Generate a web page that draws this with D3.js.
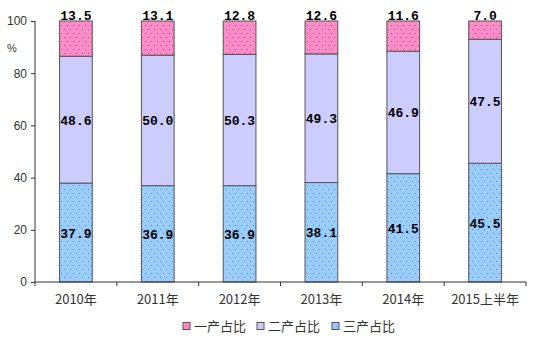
<!DOCTYPE html>
<html><head><meta charset="utf-8">
<script src="https://cdn.jsdelivr.net/npm/d3@7"></script>
<style>body{margin:0;background:#fff}svg{display:block}</style>
</head><body>
<svg id="c" width="554" height="364"></svg>
<script>
const categories = ["2010年","2011年","2012年","2013年","2014年","2015上半年"];
const primary   = [13.5,13.1,12.8,12.6,11.6,7.0];
const secondary = [48.6,50.0,50.3,49.3,46.9,47.5];
const tertiary  = [37.9,36.9,36.9,38.1,41.5,45.5];
const seriesNames = ["一产占比","二产占比","三产占比"];
const yTicks = [0,20,40,60,80,100];

const svg = d3.select("#c");
const x = d3.scaleBand().domain(categories).range([35,526]).paddingInner(0.6).paddingOuter(0.3);
const xb = d3.scaleBand().domain(categories).range([35,526]);
const y = d3.scaleLinear().domain([0,100]).range([282,21]);

const defs = svg.append("defs");
function pat(id, bg, dot){
  const p = defs.append("pattern").attr("id",id).attr("patternUnits","userSpaceOnUse")
    .attr("width",6).attr("height",8);
  p.append("rect").attr("width",6).attr("height",8).attr("fill",bg);
  p.append("rect").attr("x",1).attr("y",1).attr("width",1).attr("height",1).attr("fill",dot);
  p.append("rect").attr("x",4).attr("y",5).attr("width",1).attr("height",1).attr("fill",dot);
}
pat("pPink","#FF8CC6","#B0508A");
pat("pBlue","#99CCFF","#5C86B8");
const fills = ["url(#pPink)","#CCCCFF","url(#pBlue)"];
const legendFill = ["#FF8CC6","#CCCCFF","#99CCFF"];
const legendDot = ["#B0508A",null,"#5C86B8"];

data = categories.map((c,i)=>({cat:c}));

data.forEach((d,i)=>{
  let base=0;
  const vals=[tertiary[i],secondary[i],primary[i]];
  const fl=[fills[2],fills[1],fills[0]];
  vals.forEach((v,k)=>{
    const top = (k===2)?100:base+v;
    svg.append("rect")
      .attr("x",x(d.cat)).attr("width",x.bandwidth())
      .attr("y",y(top)).attr("height",y(base)-y(top))
      .attr("fill",fl[k]).attr("stroke","#555").attr("stroke-width",1);
    base=top;
  });
});

// labels
const lblFont = "'Liberation Mono','DejaVu Sans Mono',monospace";
function lbl(cx,yy,t){
  svg.append("text").attr("x",cx).attr("y",yy)
    .attr("text-anchor","middle").attr("font-family",lblFont).attr("font-size",13).attr("font-weight","bold")
    .attr("fill","#000").text(t);
}
data.forEach((d,i)=>{
  const cx = x(d.cat)+x.bandwidth()/2;
  lbl(cx, y(tertiary[i]/2)+5, tertiary[i].toFixed(1));
  lbl(cx, y(tertiary[i]+secondary[i]/2)+5, secondary[i].toFixed(1));
  lbl(cx, y(100)-1, primary[i].toFixed(1));
});

// axes
const axFont = "'Liberation Sans','DejaVu Sans',sans-serif";
const yAxis = svg.append("g").attr("transform","translate(35,0)")
  .call(d3.axisLeft(y).tickValues(yTicks).tickSize(4).tickPadding(4));
yAxis.selectAll("text").attr("font-family",axFont).attr("font-size",12).attr("fill","#333");
yAxis.select(".domain").attr("stroke","#333").attr("d","M0,21V282");
yAxis.selectAll(".tick line").attr("stroke","#333");

const xAxis = svg.append("g").attr("transform","translate(0,282)")
  .call(d3.axisBottom(xb).tickSize(0).tickPadding(13));
xAxis.select(".domain").attr("stroke","#333").attr("d","M35,0H526");
xAxis.selectAll("text").attr("font-family","'Noto Sans CJK SC',sans-serif").attr("font-size",13).attr("fill","#333");
const bounds = categories.map(c=>xb(c)).concat([526]);
svg.append("g").selectAll("line").data(bounds).join("line")
  .attr("x1",d=>d).attr("x2",d=>d).attr("y1",282).attr("y2",286).attr("stroke","#333");

svg.append("text").attr("x",7).attr("y",52).attr("font-family",axFont).attr("font-size",11).attr("fill","#333").text("%");

// legend
const legX = [183,257,332];
seriesNames.forEach((n,k)=>{
  svg.append("rect").attr("x",legX[k]).attr("y",322.5).attr("width",7).attr("height",7)
    .attr("fill",legendFill[k]).attr("stroke","#555").attr("stroke-width",1);
  if(legendDot[k]) svg.append("rect").attr("x",legX[k]+4).attr("y",326).attr("width",1).attr("height",1).attr("fill",legendDot[k]);
  svg.append("text").attr("x",legX[k]+11).attr("y",331).attr("font-family","'Noto Sans CJK SC',sans-serif")
    .attr("font-size",13).attr("fill","#333").text(n);
});
</script>
</body></html>
